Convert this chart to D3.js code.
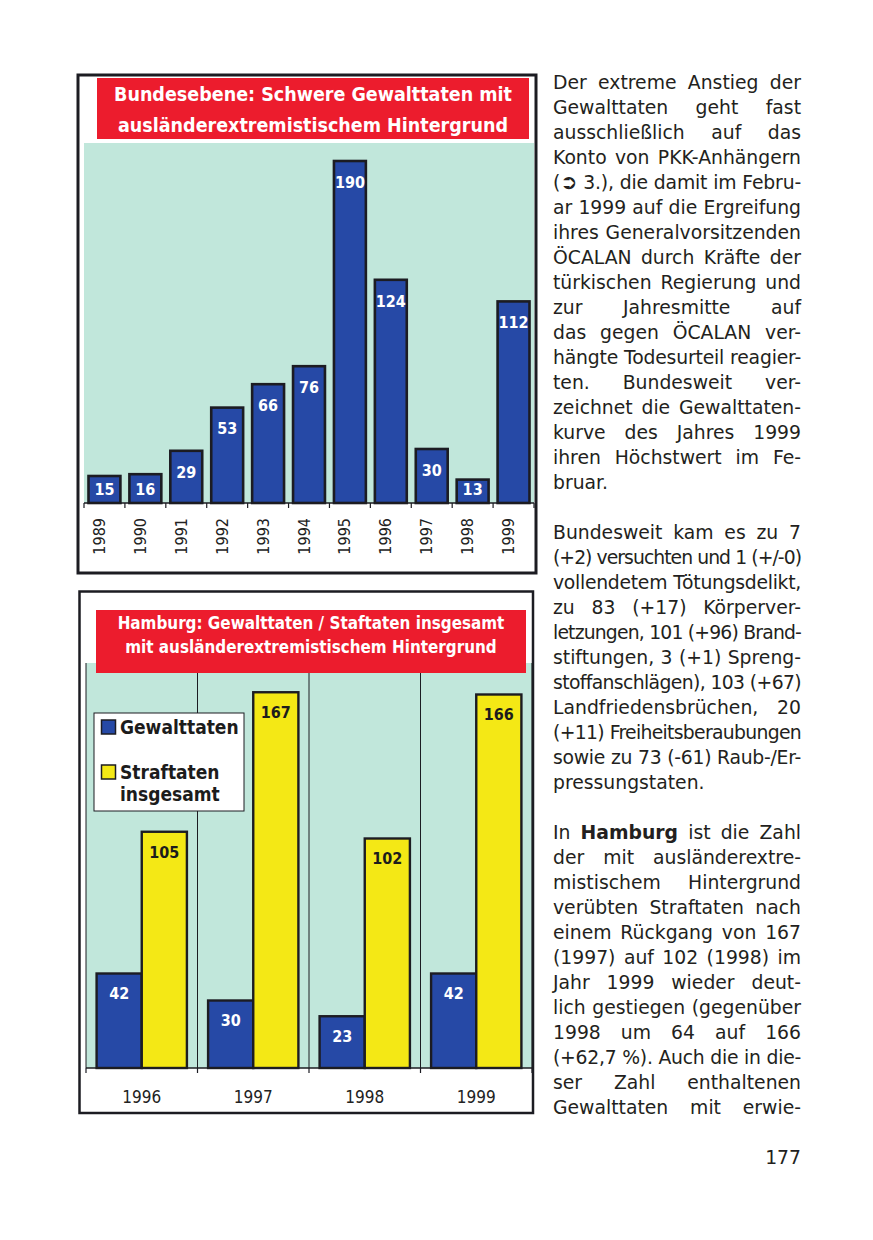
<!DOCTYPE html>
<html><head><meta charset="utf-8">
<script src="https://cdn.jsdelivr.net/npm/d3@7"></script>
<style>
body{margin:0;background:#fff;}
#page{position:relative;width:873px;height:1240px;overflow:hidden;background:#fff;}
svg{position:absolute;left:0;top:0;}
.col{position:absolute;left:553px;width:248px;top:70px;font-family:'DejaVu Sans',sans-serif;font-size:18.8px;line-height:25px;color:#231f20;}
.col div{text-align:justify;text-align-last:justify;white-space:nowrap;height:25px;}
.col div.l{text-align-last:left;}
.col div.r{text-align-last:right;}
.col .arr{font-weight:bold;font-size:1.1em;line-height:0;}
</style></head>
<body><div id="page"><svg id="chart" width="873" height="1240"></svg><div class="col" id="col"></div></div>
<script>
// ---- data ----
const years1 = ['1989','1990','1991','1992','1993','1994','1995','1996','1997','1998','1999'];
const values1 = [15,16,29,53,66,76,190,124,30,13,112];
const title1 = ['Bundesebene: Schwere Gewalttaten mit','ausländerextremistischem Hintergrund'];

const years2 = ['1996','1997','1998','1999'];
const gewalttaten = [42,30,23,42];
const straftaten = [105,167,102,166];
const seriesNames = ['Gewalttaten','Straftaten insgesamt'];
const legendLines = [['Gewalttaten'],['Straftaten','insgesamt']];
const title2 = ['Hamburg: Gewalttaten / Staftaten insgesamt','mit ausländerextremistischem Hintergrund'];

const bodyLines = [
 ['Der extreme Anstieg der','j'],['Gewalttaten geht fast','j'],['ausschließlich auf das','j'],['Konto von PKK-Anhängern','j'],
 ['(<span class="arr">➲</span> 3.), die damit im Febru-','j'],['ar 1999 auf die Ergreifung','j'],['ihres Generalvorsitzenden','j'],['ÖCALAN durch Kräfte der','j'],
 ['türkischen Regierung und','j'],['zur Jahresmitte auf','j'],['das gegen ÖCALAN ver-','j'],['hängte Todesurteil reagier-','j'],
 ['ten. Bundesweit ver-','j'],['zeichnet die Gewalttaten-','j'],['kurve des Jahres 1999','j'],['ihren Höchstwert im Fe-','j'],['bruar.','l'],
 ['',''],
 ['Bundesweit kam es zu 7','j'],['(+2) versuchten und 1 (+/-0)','j'],['vollendetem Tötungsdelikt,','j'],['zu 83 (+17) Körperver-','j'],
 ['letzungen, 101 (+96) Brand-','j'],['stiftungen, 3 (+1) Spreng-','j'],['stoffanschlägen), 103 (+67)','j'],['Landfriedensbrüchen, 20','j'],
 ['(+11) Freiheitsberaubungen','j'],['sowie zu 73 (-61) Raub-/Er-','j'],['pressungstaten.','l'],
 ['',''],
 ['In <b>Hamburg</b> ist die Zahl','j'],['der mit ausländerextre-','j'],['mistischem Hintergrund','j'],['verübten Straftaten nach','j'],
 ['einem Rückgang von 167','j'],['(1997) auf 102 (1998) im','j'],['Jahr 1999 wieder deut-','j'],['lich gestiegen (gegenüber','j'],
 ['1998 um 64 auf 166','j'],['(+62,7 %). Auch die in die-','j'],['ser Zahl enthaltenen','j'],['Gewalttaten mit erwie-','j'],
 ['',''],
 ['177','r']
];

// ---- style ----
const F = "'DejaVu Sans Condensed','DejaVu Sans',sans-serif";
const BLUE='#2649a6', YELLOW='#f4e815', GREEN='#c1e7db', RED='#ec1c2d', INK='#1c1c22';

const svg = d3.select('#chart');
svg.style('font-family',F).style('font-stretch','condensed');

// ===== Chart 1 =====
const g1 = svg.append('g');
const x1 = d3.scaleBand().domain(years1).range([84,534]).paddingInner(0.22).paddingOuter(0.11);
const y1 = d3.scaleLinear().domain([0,200]).range([503,143]);

g1.append('rect').attr('x',x1.range()[0]).attr('y',y1.range()[1])
  .attr('width',x1.range()[1]-x1.range()[0]).attr('height',y1(0)-y1.range()[1]).attr('fill',GREEN);

g1.selectAll('rect.bar').data(values1).join('rect').attr('class','bar')
  .attr('x',(d,i)=>x1(years1[i])).attr('width',x1.bandwidth())
  .attr('y',d=>y1(d)).attr('height',d=>y1(0)-y1(d))
  .attr('fill',BLUE).attr('stroke',INK).attr('stroke-width',2.6);

g1.selectAll('text.val').data(values1).join('text').attr('class','val')
  .attr('x',(d,i)=>x1(years1[i])+x1.bandwidth()/2)
  .attr('y',d=>Math.min(y1(d)+21, y1(0)-14)).attr('dy','0.36em')
  .attr('text-anchor','middle').attr('fill','#fff').attr('font-weight','bold').attr('font-size',16)
  .text(d=>d);

// axis
const b1 = d3.range(years1.length+1).map(i=>x1.range()[0]+i*x1.step());
g1.append('line').attr('x1',b1[0]).attr('x2',b1[b1.length-1]).attr('y1',y1(0)).attr('y2',y1(0)).attr('stroke',INK).attr('stroke-width',1.5);
g1.selectAll('line.tick').data(b1).join('line').attr('class','tick')
  .attr('x1',d=>d).attr('x2',d=>d).attr('y1',y1(0)).attr('y2',y1(0)+5).attr('stroke',INK).attr('stroke-width',1.2);
g1.selectAll('text.yr').data(years1).join('text').attr('class','yr')
  .attr('transform',d=>`translate(${x1(d)+x1.bandwidth()/2+0.5},${y1(0)+15}) rotate(-90)`)
  .attr('text-anchor','end').attr('font-size',16).attr('fill','#222').text(d=>d);

// title
g1.append('rect').attr('x',97).attr('y',78).attr('width',432).attr('height',61).attr('fill',RED);
g1.selectAll('text.t').data(title1).join('text').attr('class','t')
  .attr('x',313).attr('y',(d,i)=>101+i*31).attr('text-anchor','middle')
  .attr('fill','#fff').attr('font-weight','bold').attr('font-size',19.5).text(d=>d);

// frame
g1.append('rect').attr('x',78).attr('y',75).attr('width',458).attr('height',498)
  .attr('fill','none').attr('stroke',INK).attr('stroke-width',3);

// ===== Chart 2 =====
const g2 = svg.append('g');
const x2 = d3.scaleBand().domain(years2).range([86,532]).paddingInner(0.19).paddingOuter(0.095);
const xs = d3.scaleBand().domain(seriesNames).range([0,x2.bandwidth()]);
const y2 = d3.scaleLinear().domain([0,180]).range([1068,663]);
const colors = d3.scaleOrdinal().domain(seriesNames).range([BLUE,YELLOW]);
const labelColors = d3.scaleOrdinal().domain(seriesNames).range(['#fff','#1c1c1c']);

g2.append('rect').attr('x',x2.range()[0]).attr('y',y2.range()[1])
  .attr('width',x2.range()[1]-x2.range()[0]).attr('height',y2(0)-y2.range()[1]).attr('fill',GREEN);

const b2 = d3.range(years2.length+1).map(i=>x2.range()[0]+i*x2.step());
g2.selectAll('line.grid').data(b2).join('line').attr('class','grid')
  .attr('x1',d=>d).attr('x2',d=>d).attr('y1',y2.range()[1]).attr('y2',y2(0)).attr('stroke',INK).attr('stroke-width',1);

const rows = [];
years2.forEach((yr,i)=>{ rows.push({yr,s:seriesNames[0],v:gewalttaten[i]}); rows.push({yr,s:seriesNames[1],v:straftaten[i]}); });

g2.selectAll('rect.bar').data(rows).join('rect').attr('class','bar')
  .attr('x',d=>x2(d.yr)+xs(d.s)).attr('width',xs.bandwidth())
  .attr('y',d=>y2(d.v)).attr('height',d=>y2(0)-y2(d.v))
  .attr('fill',d=>colors(d.s)).attr('stroke',INK).attr('stroke-width',2.4);

g2.selectAll('text.val').data(rows).join('text').attr('class','val')
  .attr('x',d=>x2(d.yr)+xs(d.s)+xs.bandwidth()/2).attr('y',d=>y2(d.v)+20).attr('dy','0.36em')
  .attr('text-anchor','middle').attr('font-weight','bold').attr('font-size',16)
  .attr('fill',d=>labelColors(d.s)).text(d=>d.v);

g2.append('line').attr('x1',b2[0]).attr('x2',b2[b2.length-1]).attr('y1',y2(0)).attr('y2',y2(0)).attr('stroke',INK).attr('stroke-width',1.5);
g2.selectAll('line.tick').data(b2).join('line').attr('class','tick')
  .attr('x1',d=>d).attr('x2',d=>d).attr('y1',y2(0)).attr('y2',y2(0)+5).attr('stroke',INK).attr('stroke-width',1.2);
g2.selectAll('text.yr').data(years2).join('text').attr('class','yr')
  .attr('x',d=>x2(d)+x2.bandwidth()/2).attr('y',y2(0)+35).attr('text-anchor','middle')
  .attr('font-size',17).attr('fill','#222').text(d=>d);

// legend
const lg = g2.append('g');
lg.append('rect').attr('x',94).attr('y',713).attr('width',150).attr('height',98).attr('fill','#fff').attr('stroke',INK).attr('stroke-width',1);
const legY = [720,765];
seriesNames.forEach((s,i)=>{
  lg.append('rect').attr('x',101.5).attr('y',legY[i]).attr('width',14).attr('height',14)
    .attr('fill',colors(s)).attr('stroke',INK).attr('stroke-width',1.5);
  legendLines[i].forEach((t,j)=>{
    lg.append('text').attr('x',120).attr('y',legY[i]+14+j*22).attr('font-weight','bold')
      .attr('font-size',19).attr('fill','#1c1c1c').text(t);
  });
});

// title
g2.append('rect').attr('x',96).attr('y',610).attr('width',430).attr('height',63).attr('fill',RED);
g2.selectAll('text.t').data(title2).join('text').attr('class','t')
  .attr('x',311).attr('y',(d,i)=>629+i*24).attr('text-anchor','middle')
  .attr('fill','#fff').attr('font-weight','bold').attr('font-size',16.9).text(d=>d);

g2.append('rect').attr('x',79.5).attr('y',591.5).attr('width',453.5).attr('height',521.5)
  .attr('fill','none').attr('stroke',INK).attr('stroke-width',2.5);

// ===== text column =====
const COLW = 248;
d3.select('#col').selectAll('div').data(bodyLines).join('div')
  .attr('class',d=>d[1]==='l'?'l':(d[1]==='r'?'r':''))
  .html(d=>d[0] ? '<span class="in">'+d[0]+'</span>' : '&nbsp;')
  .each(function(d){
    const sp = this.querySelector('span.in');
    if(!sp) return;
    sp.style.display='inline-block';
    const w = sp.getBoundingClientRect().width;
    sp.style.display='inline';
    if(w > COLW){
      const n = sp.textContent.length;
      this.style.letterSpacing = ((COLW - w - 0.5)/n)+'px';
      this.style.wordSpacing = '-1px';
    }
  });
</script></body></html>
